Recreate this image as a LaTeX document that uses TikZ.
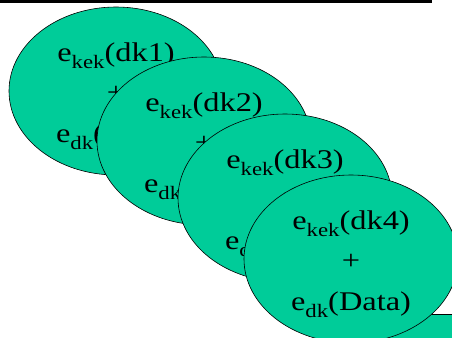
\documentclass[tikz,border=0pt]{standalone}
\usepackage{fontspec}
\setmainfont{Liberation Serif}
\newfontfamily\slidefont[FakeStretch=1.2]{Liberation Serif}
\usepackage{tikz}
\usetikzlibrary{shapes.geometric}
\definecolor{KeyGreen}{HTML}{00CC99}
\newcommand{\lowsub}[1]{\raisebox{-0.28em}{\fontsize{19}{19}\selectfont #1}}
\newcommand{\keylines}[1]{\rule{0pt}{29pt}e\lowsub{kek}(dk#1)\\+\\e\lowsub{dk}(Data)}

\begin{document}
\begin{tikzpicture}[x=1pt,y=-1pt,
  keyblob/.style={ellipse,draw=black,line width=0.6pt,fill=KeyGreen,inner sep=0pt,
    minimum width=214pt,minimum height=168pt,align=center,
    font=\slidefont\fontsize{27}{40.5}\selectfont}]
  \useasboundingbox (0,0) rectangle (452,337);
  \clip (0,0) rectangle (452,337);
  \fill[black] (0,0) rectangle (432,3);
  \node[keyblob] (dk1) at (116,91) {\keylines{1}};
  \node[keyblob] (dk2) at (204,141) {\keylines{2}};
  \node[keyblob] (dk3) at (285,198) {\keylines{3}};
  % shape behind the last key, only its top edge shows
  \draw[line width=0.6pt,fill=KeyGreen] (360,314) rectangle (470,360);
  \node[keyblob] (dk4) at (351,259) {\keylines{4}};
\end{tikzpicture}
\end{document}
